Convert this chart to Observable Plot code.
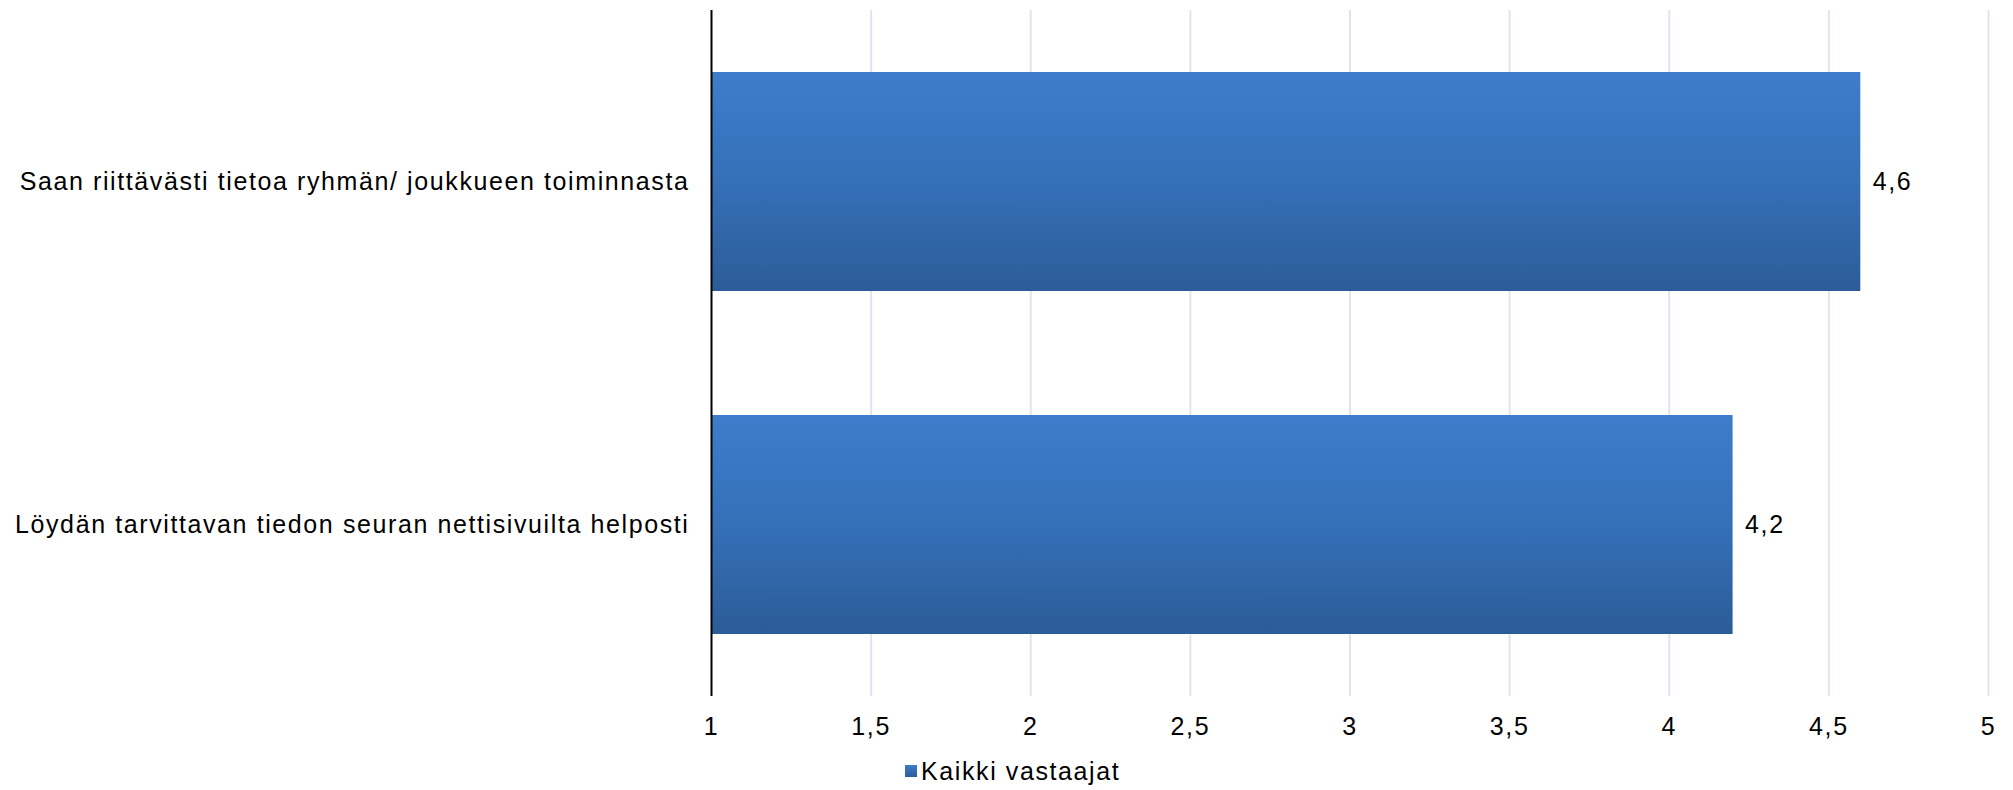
<!DOCTYPE html>
<html>
<head>
<meta charset="utf-8">
<script src="https://cdn.jsdelivr.net/npm/d3@7"></script>
<script src="https://cdn.jsdelivr.net/npm/@observablehq/plot@0.6"></script>
<style>
  html, body { margin: 0; padding: 0; background: #fff; }
  body { width: 2013px; height: 790px; overflow: hidden; font-family: "Liberation Sans", Arial, sans-serif; }
  #legend { position: relative; height: 35px; font-size: 25px; letter-spacing: 1.6px; color: #000; }
  #legend .sw { position: absolute; left: 905px; top: 10px; width: 12px; height: 12px; background: linear-gradient(#3d7cc9, #2c5d9a); }
  #legend .lbl { position: absolute; left: 921px; top: 3px; line-height: 26px; }
</style>
</head>
<body>
<div id="chart"></div>
<div id="legend"><span class="sw"></span><span class="lbl">Kaikki vastaajat</span></div>
<script>
const categories = [
  "Saan riittävästi tietoa ryhmän/ joukkueen toiminnasta",
  "Löydän tarvittavan tiedon seuran nettisivuilta helposti"
];
const values = [4.6, 4.2];
const seriesName = "Kaikki vastaajat";
const xTicks = [1, 1.5, 2, 2.5, 3, 3.5, 4, 4.5, 5];

const data = categories.map((c, i) => ({category: c, value: values[i], series: seriesName}));
const fmt = d => String(d).replace(".", ",");

const chart = Plot.plot({
  width: 2013,
  height: 755,
  marginLeft: 711,
  marginRight: 25,
  marginTop: 10,
  marginBottom: 59,
  style: {fontFamily: "Liberation Sans, Arial, sans-serif", fontSize: "25px", letterSpacing: "1.6px", color: "#000", background: "#fff", overflow: "visible"},
  x: {domain: [1, 5], ticks: xTicks, tickFormat: fmt, label: null},
  y: {domain: categories, paddingInner: 0.3615, paddingOuter: 0.18, label: null},
  marks: [
    Plot.gridX(xTicks.filter(t => t !== 1), {stroke: "#dfe5ef", strokeOpacity: 1, strokeWidth: 2}),
    Plot.barX(data, {x1: 1, x2: "value", y: "category", fill: "url(#barGrad)", style: "filter: drop-shadow(0px 3px 3px rgba(0,0,0,0.35))"}),
    Plot.ruleX([1], {stroke: "#000", strokeWidth: 2}),
    Plot.axisX({ticks: xTicks, tickFormat: fmt, tickSize: 0, tickPadding: 21, fill: "#000", fontSize: 25}),
    Plot.axisY({tickSize: 0, tickPadding: 22, fill: "#000", fontSize: 25}),
    Plot.text(data, {x: "value", y: "category", text: d => fmt(d.value), textAnchor: "start", dx: 12, fill: "#000", fontSize: 25})
  ]
});

const ns = "http://www.w3.org/2000/svg";
const defs = document.createElementNS(ns, "defs");
const grad = document.createElementNS(ns, "linearGradient");
grad.setAttribute("id", "barGrad");
grad.setAttribute("x1", "0"); grad.setAttribute("y1", "0");
grad.setAttribute("x2", "0"); grad.setAttribute("y2", "1");
[["0%", "#3d7dcb"], ["50%", "#3570b8"], ["100%", "#2c5c98"]].forEach(([o, c]) => {
  const s = document.createElementNS(ns, "stop");
  s.setAttribute("offset", o); s.setAttribute("stop-color", c);
  grad.appendChild(s);
});
defs.appendChild(grad);
chart.insertBefore(defs, chart.firstChild);

document.getElementById("chart").appendChild(chart);
</script>
</body>
</html>
